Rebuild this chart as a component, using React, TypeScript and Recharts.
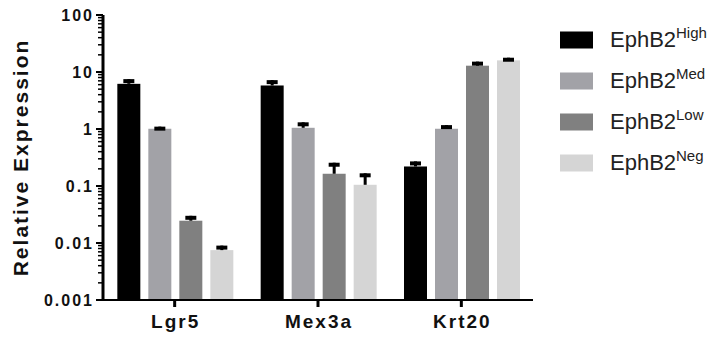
import { BarChart, Bar, XAxis, YAxis } from 'recharts';

// values
const GENES = ['Lgr5', 'Mex3a', 'Krt20'];
const HIGH = [6.2, 5.8, 0.22];
const HIGH_ERR = [1.3, 1.4, 0.05];
const MED = [1.01, 1.05, 1.01];
const MED_ERR = [0.09, 0.26, 0.16];
const LOW = [0.0246, 0.164, 12.9];
const LOW_ERR = [0.0054, 0.092, 2.3];
const NEG = [0.0075, 0.105, 16.0];
const NEG_ERR = [0.0015, 0.062, 1.8];

const MAJOR_TICKS = [0.001, 0.01, 0.1, 1, 10, 100];
const MINOR_STEPS = [2, 3, 4, 5, 6, 7, 8, 9];
const Y_MIN = 0.001;
const Y_MAX = 100;

const ALL_TICKS = [
  ...MAJOR_TICKS,
  ...MAJOR_TICKS.slice(0, -1).flatMap((d) => MINOR_STEPS.map((m) => d * m)),
];

const data = GENES.map((gene, i) => ({
  gene,
  high: HIGH[i],
  highErr: HIGH_ERR[i],
  med: MED[i],
  medErr: MED_ERR[i],
  low: LOW[i],
  lowErr: LOW_ERR[i],
  neg: NEG[i],
  negErr: NEG_ERR[i],
}));

const SERIES = [
  { key: 'high', errKey: 'highErr', sup: 'High', color: '#000000' },
  { key: 'med', errKey: 'medErr', sup: 'Med', color: '#a2a2a7' },
  { key: 'low', errKey: 'lowErr', sup: 'Low', color: '#808080' },
  { key: 'neg', errKey: 'negErr', sup: 'Neg', color: '#d5d5d5' },
];

const FONT = '"Liberation Sans", Arial, sans-serif';

// bar plus an upper-only error bar, scaled from the bar's own log height
const BarWithError = (props: any) => {
  const { x, y, width, height, fill, payload, valueKey, errKey } = props;
  const v = payload[valueKey];
  const e = payload[errKey];
  const perDecade = height / (Math.log10(v) - Math.log10(Y_MIN));
  const yTop = y - (Math.log10(v + e) - Math.log10(v)) * perDecade;
  const cx = x + width / 2;
  return (
    <g>
      <rect x={x} y={y} width={width} height={height} fill={fill} />
      <rect x={cx - 1.5} y={yTop} width={3} height={y - yTop} fill="#000" />
      <rect x={cx - 5.5} y={yTop} width={11} height={4} fill="#000" />
    </g>
  );
};

const YTick = (props: any) => {
  const { x, y, payload } = props;
  const major = MAJOR_TICKS.includes(payload.value);
  return (
    <g>
      <line
        x1={x - (major ? 7 : 5)}
        x2={x}
        y1={y}
        y2={y}
        stroke="#000"
        strokeWidth={major ? 2 : 1.5}
      />
      {major && (
        <text
          x={x - 9}
          y={y}
          textAnchor="end"
          dominantBaseline="central"
          fontFamily={FONT}
          fontWeight="bold"
          fontSize={16}
          letterSpacing={2}
          fill="#111"
        >
          {String(payload.value)}
        </text>
      )}
    </g>
  );
};

const XTick = (props: any) => {
  const { x, y, payload } = props;
  return (
    <text
      x={x + 1}
      y={y + 21}
      textAnchor="middle"
      fontFamily={FONT}
      fontWeight="bold"
      fontSize={19}
      letterSpacing={2}
      fill="#111"
    >
      {payload.value}
    </text>
  );
};

const YTitle = (props: any) => {
  const { viewBox } = props;
  const cx = viewBox.x + 20;
  const cy = viewBox.y + viewBox.height / 2;
  return (
    <text
      x={cx}
      y={cy}
      transform={`rotate(-90, ${cx}, ${cy})`}
      textAnchor="middle"
      dominantBaseline="central"
      fontFamily={FONT}
      fontWeight="bold"
      fontSize={21}
      letterSpacing={2}
      fill="#111"
    >
      Relative  Expression
    </text>
  );
};

const LegendBox = () => (
  <svg
    width={157}
    height={200}
    style={{ position: 'absolute', left: 560, top: 0 }}
  >
    {SERIES.map((s, i) => {
      const cy = 40 + i * 41;
      return (
        <g key={s.key}>
          <rect x={0} y={cy - 8.5} width={33} height={17} fill={s.color} />
          <text x={50} y={cy + 7} fontFamily={FONT} fontSize={22} fill="#222">
            EphB2
          </text>
          <text x={116} y={cy - 2} fontFamily={FONT} fontSize={15} fill="#222">
            {s.sup}
          </text>
        </g>
      );
    })}
  </svg>
);

export default function App() {
  return (
    <div
      style={{
        position: 'fixed',
        left: 0,
        top: 0,
        width: 717,
        height: 339,
        background: '#fff',
      }}
    >
      <BarChart
        width={717}
        height={339}
        data={data}
        margin={{ top: 15, right: 184, bottom: 0, left: 0 }}
        barCategoryGap="10%"
        barGap={8}
      >
        <XAxis
          dataKey="gene"
          height={39}
          tick={<XTick />}
          tickSize={7}
          tickMargin={0}
          tickLine={{ stroke: '#000', strokeWidth: 3 }}
          axisLine={{ stroke: '#000', strokeWidth: 2 }}
        />
        <YAxis
          type="number"
          scale="log"
          domain={[Y_MIN, Y_MAX]}
          allowDataOverflow
          ticks={ALL_TICKS}
          interval={0}
          width={103}
          tickSize={0}
          tickMargin={0}
          tickLine={false}
          tick={<YTick />}
          axisLine={{ stroke: '#000', strokeWidth: 3 }}
          label={<YTitle />}
        />
        {SERIES.map((s) => (
          <Bar
            key={s.key}
            dataKey={s.key}
            fill={s.color}
            isAnimationActive={false}
            shape={(p: any) => (
              <BarWithError {...p} valueKey={s.key} errKey={s.errKey} />
            )}
          />
        ))}
      </BarChart>
      <LegendBox />
    </div>
  );
}
